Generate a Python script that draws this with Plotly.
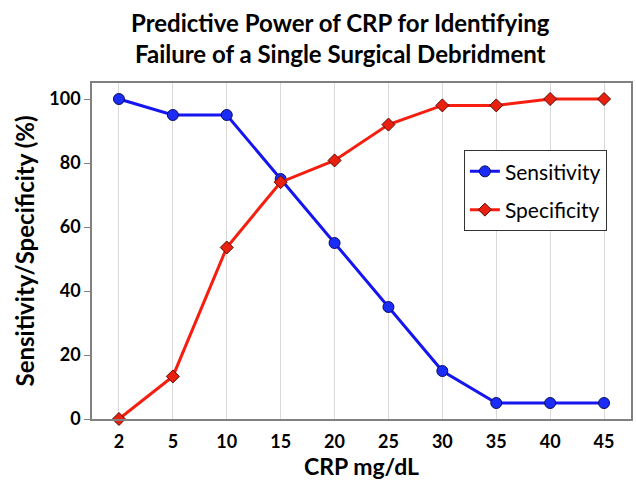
import plotly.graph_objects as go

crp = ["2", "5", "10", "15", "20", "25", "30", "35", "40", "45"]
sensitivity = [100, 95, 95, 75, 55, 35, 15, 5, 5, 5]
specificity = [0, 13.3, 53.6, 74, 80.8, 92, 98, 98, 100, 100]

FONT = "Lato"

fig = go.Figure()
fig.add_trace(go.Scatter(
    x=crp, y=sensitivity, name="Sensitivity", mode="lines+markers",
    legendgroup="a",
    line=dict(color="#1515f0", width=3),
    marker=dict(symbol="circle", size=11, color="#1a2cf5",
                line=dict(color="#0a1060", width=1)),
    cliponaxis=False,
))
fig.add_trace(go.Scatter(
    x=crp, y=specificity, name="Specificity", mode="lines+markers",
    legendgroup="b",
    line=dict(color="#f51e0f", width=3),
    marker=dict(symbol="diamond", size=10, color="#e8200f",
                line=dict(color="#5a0a05", width=1)),
    cliponaxis=False,
))

fig.update_layout(
    width=636, height=486,
    margin=dict(l=92, r=3, t=83, b=67),
    paper_bgcolor="white", plot_bgcolor="white",
    font=dict(family=FONT, color="black"),
    title=dict(
        text="<b>Predictive Power of CRP for Identifying<br>Failure of a Single Surgical Debridment</b>",
        x=0.535, xanchor="center", y=0.934, yanchor="top",
        font=dict(size=24, family=FONT),
    ),
    legend=dict(
        x=0.69, y=0.80, xanchor="left", yanchor="top",
        bordercolor="#333333", borderwidth=1, bgcolor="white",
        font=dict(size=21, family=FONT),
        tracegroupgap=8,
    ),
    xaxis=dict(
        type="category", range=[-0.5, 9.5],
        showgrid=True, gridcolor="#d9d9d9", gridwidth=1,
        showline=True, linecolor="#808080", linewidth=1.5, mirror=True,
        ticks="", tickfont=dict(size=18, family=FONT, weight="bold"),
        ticklabelstandoff=6,
        title=dict(text="<b>CRP mg/dL</b>", font=dict(size=23, family=FONT), standoff=8),
    ),
    yaxis=dict(
        range=[0, 105], tickvals=[0, 20, 40, 60, 80, 100],
        showgrid=False, zeroline=False,
        showline=True, linecolor="#808080", linewidth=1.5, mirror=True,
        ticks="outside", ticklen=6, tickcolor="#808080",
        tickfont=dict(size=18, family=FONT, weight="bold"),
        title=dict(text="<b>Sensitivity/Specificity (%)</b>", font=dict(size=24, family=FONT), standoff=8),
    ),
)

fig.write_html("out.html", post_script="document.body.style.margin='0';",
               config={"displayModeBar": False})
